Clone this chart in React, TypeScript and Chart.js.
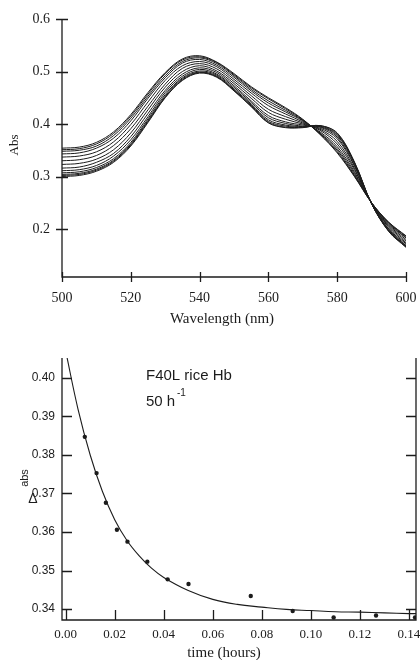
import React, { useEffect, useRef } from "react";
import { Chart, registerables } from "chart.js";

Chart.register(...registerables);

// ---------- Top chart data: absorbance spectra ----------
const wavelengths = [500, 505, 510, 515, 520, 525, 530, 535, 540, 545, 550, 555, 560, 565, 570, 575, 580, 585, 590, 595, 600];

const spectrum01 = [0.300, 0.302, 0.310, 0.327, 0.358, 0.403, 0.450, 0.483, 0.497, 0.489, 0.463, 0.433, 0.402, 0.393, 0.393, 0.397, 0.383, 0.328, 0.248, 0.195, 0.165];
const spectrum02 = [0.302, 0.304, 0.312, 0.329, 0.360, 0.405, 0.451, 0.484, 0.498, 0.490, 0.464, 0.434, 0.403, 0.394, 0.394, 0.397, 0.382, 0.327, 0.248, 0.196, 0.166];
const spectrum03 = [0.304, 0.306, 0.314, 0.331, 0.362, 0.407, 0.453, 0.486, 0.499, 0.491, 0.465, 0.436, 0.405, 0.396, 0.394, 0.396, 0.380, 0.326, 0.248, 0.196, 0.167];
const spectrum04 = [0.307, 0.309, 0.317, 0.334, 0.365, 0.410, 0.456, 0.488, 0.501, 0.493, 0.467, 0.438, 0.408, 0.398, 0.395, 0.395, 0.378, 0.325, 0.248, 0.197, 0.168];
const spectrum05 = [0.311, 0.313, 0.321, 0.339, 0.370, 0.414, 0.460, 0.491, 0.504, 0.495, 0.470, 0.441, 0.412, 0.401, 0.396, 0.394, 0.375, 0.322, 0.248, 0.199, 0.169];
const spectrum06 = [0.316, 0.318, 0.327, 0.344, 0.376, 0.420, 0.464, 0.495, 0.507, 0.498, 0.473, 0.444, 0.416, 0.404, 0.398, 0.392, 0.372, 0.320, 0.249, 0.200, 0.172];
const spectrum07 = [0.323, 0.325, 0.333, 0.351, 0.383, 0.427, 0.470, 0.500, 0.511, 0.501, 0.477, 0.449, 0.422, 0.409, 0.400, 0.390, 0.367, 0.316, 0.249, 0.203, 0.174];
const spectrum08 = [0.330, 0.332, 0.340, 0.359, 0.391, 0.434, 0.476, 0.506, 0.515, 0.505, 0.481, 0.454, 0.428, 0.414, 0.402, 0.388, 0.362, 0.313, 0.249, 0.205, 0.177];
const spectrum09 = [0.337, 0.339, 0.347, 0.366, 0.399, 0.442, 0.483, 0.511, 0.519, 0.509, 0.485, 0.459, 0.435, 0.419, 0.404, 0.385, 0.357, 0.309, 0.249, 0.207, 0.180];
const spectrum10 = [0.343, 0.345, 0.354, 0.373, 0.406, 0.449, 0.488, 0.516, 0.523, 0.512, 0.489, 0.463, 0.440, 0.423, 0.406, 0.383, 0.353, 0.306, 0.250, 0.209, 0.183];
const spectrum11 = [0.348, 0.350, 0.358, 0.378, 0.411, 0.453, 0.492, 0.519, 0.526, 0.515, 0.492, 0.466, 0.444, 0.426, 0.407, 0.382, 0.350, 0.303, 0.250, 0.211, 0.184];
const spectrum12 = [0.351, 0.353, 0.362, 0.382, 0.415, 0.457, 0.496, 0.522, 0.528, 0.517, 0.494, 0.469, 0.448, 0.429, 0.408, 0.381, 0.347, 0.301, 0.250, 0.212, 0.186];
const spectrum13 = [0.354, 0.356, 0.365, 0.385, 0.418, 0.460, 0.498, 0.524, 0.530, 0.518, 0.496, 0.471, 0.450, 0.431, 0.409, 0.380, 0.345, 0.300, 0.250, 0.213, 0.187];

const spectra = [spectrum01, spectrum02, spectrum03, spectrum04, spectrum05, spectrum06, spectrum07, spectrum08, spectrum09, spectrum10, spectrum11, spectrum12, spectrum13];

const absTicks = [0.2, 0.3, 0.4, 0.5, 0.6];
const absTickLabels = ["0.2", "0.3", "0.4", "0.5", "0.6"];
const wavelengthTicks = [500, 520, 540, 560, 580, 600];
const wavelengthTickLabels = ["500", "520", "540", "560", "580", "600"];

// ---------- Bottom chart data: kinetics ----------
const timePoints = [0.0078, 0.0126, 0.0164, 0.0209, 0.0252, 0.0333, 0.0416, 0.0501, 0.0755, 0.0926, 0.1093, 0.1266, 0.1425];
const deltaAbsPoints = [0.3847, 0.3753, 0.3676, 0.3606, 0.3575, 0.3523, 0.3477, 0.3465, 0.3434, 0.3395, 0.3378, 0.3383, 0.3378];

const fitTimes = [0.0, 0.005, 0.01, 0.015, 0.02, 0.025, 0.03, 0.035, 0.04, 0.05, 0.06, 0.07, 0.08, 0.09, 0.1, 0.11, 0.12, 0.13, 0.14, 0.143];
const fitValues = [0.407, 0.392, 0.380, 0.3705, 0.3632, 0.3578, 0.3538, 0.3506, 0.3482, 0.3448, 0.3425, 0.3412, 0.3405, 0.3399, 0.3396, 0.3393, 0.3392, 0.3390, 0.3388, 0.3388];

const timeTicks = [0.0, 0.02, 0.04, 0.06, 0.08, 0.1, 0.12, 0.14];
const timeTickLabels = ["0.00", "0.02", "0.04", "0.06", "0.08", "0.10", "0.12", "0.14"];
const deltaAbsTicks = [0.34, 0.35, 0.36, 0.37, 0.38, 0.39, 0.4];
const deltaAbsTickLabels = ["0.34", "0.35", "0.36", "0.37", "0.38", "0.39", "0.40"];

const INK = "#1c1c1c";
const SERIF = '"Liberation Serif", "DejaVu Serif", serif';
const SANS = '"Liberation Sans", Arial, sans-serif';

function fixTicks(values: number[]) {
  return (scale: any) => {
    scale.ticks = values.map((v) => ({ value: v }));
  };
}

function fixSize(dim: "width" | "height", size: number) {
  return (scale: any) => {
    scale[dim] = size;
    scale.paddingLeft = 0;
    scale.paddingRight = 0;
    scale.paddingTop = 0;
    scale.paddingBottom = 0;
  };
}

const topPlugin = {
  id: "topAxes",
  afterDraw(chart: any) {
    const ctx = chart.ctx;
    const { left, right, top, bottom } = chart.chartArea;
    const xs = chart.scales.x;
    const ys = chart.scales.y;
    ctx.save();
    ctx.strokeStyle = INK;
    ctx.lineWidth = 1.3;
    ctx.beginPath();
    ctx.moveTo(left, top);
    ctx.lineTo(left, bottom);
    ctx.lineTo(right, bottom);
    ctx.stroke();
    ctx.beginPath();
    absTicks.forEach((v) => {
      const y = Math.round(ys.getPixelForValue(v)) + 0.5;
      ctx.moveTo(left - 6, y);
      ctx.lineTo(left + 6, y);
    });
    wavelengthTicks.forEach((v) => {
      const x = Math.round(xs.getPixelForValue(v)) + 0.5;
      ctx.moveTo(x, bottom - 5);
      ctx.lineTo(x, bottom + 5);
    });
    ctx.stroke();

    ctx.fillStyle = INK;
    ctx.textAlign = "center";
    ctx.textBaseline = "middle";
    ctx.font = "15px " + SERIF;
    ctx.fillText("Wavelength (nm)", (left + right) / 2 - 12, bottom + 42);
    ctx.save();
    ctx.translate(15, 145);
    ctx.rotate(-Math.PI / 2);
    ctx.font = "13px " + SERIF;
    ctx.fillText("Abs", 0, 0);
    ctx.restore();
    ctx.restore();
  },
};

const bottomPlugin = {
  id: "bottomAxes",
  afterDraw(chart: any) {
    const ctx = chart.ctx;
    const { left, right, top, bottom } = chart.chartArea;
    const xs = chart.scales.x;
    const ys = chart.scales.y;
    ctx.save();
    ctx.strokeStyle = INK;
    ctx.lineWidth = 1.3;
    ctx.beginPath();
    ctx.moveTo(left, top);
    ctx.lineTo(left, bottom);
    ctx.lineTo(right, bottom);
    ctx.lineTo(right, top);
    ctx.stroke();
    ctx.beginPath();
    deltaAbsTicks.forEach((v) => {
      const y = Math.round(ys.getPixelForValue(v)) + 0.5;
      ctx.moveTo(left, y);
      ctx.lineTo(left + 10, y);
      ctx.moveTo(right, y);
      ctx.lineTo(right - 10, y);
    });
    timeTicks.forEach((v) => {
      const x = Math.round(xs.getPixelForValue(v)) + 0.5;
      ctx.moveTo(x, bottom);
      ctx.lineTo(x, bottom - 10);
    });
    ctx.stroke();

    ctx.fillStyle = INK;
    ctx.textBaseline = "middle";
    ctx.textAlign = "left";
    ctx.font = "15px " + SANS;
    ctx.fillText("F40L rice Hb", 146, 46);
    ctx.fillText("50 h", 146, 72);
    ctx.font = "10px " + SANS;
    ctx.fillText("-1", 177, 63);

    ctx.textAlign = "center";
    ctx.font = "15px " + SERIF;
    ctx.fillText("time (hours)", (left + right) / 2 - 15, bottom + 33);

    ctx.save();
    ctx.translate(25, 148);
    ctx.rotate(-Math.PI / 2);
    ctx.font = "11px " + SANS;
    ctx.fillText("abs", 0, 0);
    ctx.restore();
    ctx.font = "14px " + SANS;
    ctx.fillText("\u0394", 33, 169);
    ctx.restore();
  },
};

export default function App() {
  const topRef = useRef<HTMLCanvasElement | null>(null);
  const bottomRef = useRef<HTMLCanvasElement | null>(null);

  useEffect(() => {
    const topChart = new Chart(topRef.current as HTMLCanvasElement, {
      type: "scatter",
      data: {
        datasets: spectra.map((s, i) => ({
          label: "spectrum " + (i + 1),
          data: wavelengths.map((w, j) => ({ x: w, y: s[j] })),
          showLine: true,
          borderColor: INK,
          borderWidth: 1,
          pointRadius: 0,
          tension: 0.35,
          fill: false,
        })),
      },
      options: {
        animation: false,
        responsive: false,
        maintainAspectRatio: false,
        layout: { padding: { left: 0, top: 19, right: 14, bottom: 0 } },
        plugins: { legend: { display: false }, tooltip: { enabled: false } },
        scales: {
          x: {
            type: "linear",
            min: 500,
            max: 600,
            afterBuildTicks: fixTicks(wavelengthTicks),
            afterFit: fixSize("height", 53),
            grid: { display: false, drawTicks: false },
            border: { display: false },
            ticks: {
              padding: 13,
              color: INK,
              font: { family: SERIF, size: 14 },
              maxRotation: 0,
              autoSkip: false,
              callback: (_v: any, i: number) => wavelengthTickLabels[i],
            },
          },
          y: {
            type: "linear",
            min: 0.1086,
            max: 0.6,
            afterBuildTicks: fixTicks(absTicks),
            afterFit: fixSize("width", 62),
            grid: { display: false, drawTicks: false },
            border: { display: false },
            ticks: {
              padding: 12,
              color: INK,
              font: { family: SERIF, size: 14 },
              autoSkip: false,
              callback: (_v: any, i: number) => absTickLabels[i],
            },
          },
        },
      },
      plugins: [topPlugin],
    } as any);

    const bottomChart = new Chart(bottomRef.current as HTMLCanvasElement, {
      type: "scatter",
      data: {
        datasets: [
          {
            label: "fit",
            data: fitTimes.map((t, j) => ({ x: t, y: fitValues[j] })),
            showLine: true,
            borderColor: INK,
            borderWidth: 1.1,
            pointRadius: 0,
            tension: 0.4,
            fill: false,
          },
          {
            label: "data",
            data: timePoints.map((t, j) => ({ x: t, y: deltaAbsPoints[j] })),
            showLine: false,
            pointRadius: 2.2,
            pointStyle: "circle",
            backgroundColor: INK,
            borderColor: INK,
            borderWidth: 0,
          },
        ],
      },
      options: {
        animation: false,
        responsive: false,
        maintainAspectRatio: false,
        layout: { padding: { left: 0, top: 28, right: 2, bottom: 0 } },
        plugins: { legend: { display: false }, tooltip: { enabled: false } },
        scales: {
          x: {
            type: "linear",
            min: -0.0015,
            max: 0.1429,
            afterBuildTicks: fixTicks(timeTicks),
            afterFit: fixSize("height", 40),
            grid: { display: false, drawTicks: false },
            border: { display: false },
            ticks: {
              padding: 7,
              color: INK,
              font: { family: SERIF, size: 13 },
              maxRotation: 0,
              autoSkip: false,
              callback: (_v: any, i: number) => timeTickLabels[i],
            },
          },
          y: {
            type: "linear",
            min: 0.33715,
            max: 0.40518,
            afterBuildTicks: fixTicks(deltaAbsTicks),
            afterFit: fixSize("width", 62),
            grid: { display: false, drawTicks: false },
            border: { display: false },
            ticks: {
              padding: 7,
              color: INK,
              font: { family: SANS, size: 12 },
              autoSkip: false,
              callback: (_v: any, i: number) => deltaAbsTickLabels[i],
            },
          },
        },
      },
      plugins: [bottomPlugin],
    } as any);

    return () => {
      topChart.destroy();
      bottomChart.destroy();
    };
  }, []);

  return (
    <div style={{ position: "absolute", left: 0, top: 0, width: 420, height: 660, background: "#fff", overflow: "hidden" }}>
      <canvas ref={topRef} width={420} height={330} style={{ position: "absolute", left: 0, top: 0, width: 420, height: 330 }} />
      <canvas ref={bottomRef} width={420} height={330} style={{ position: "absolute", left: 0, top: 330, width: 420, height: 330 }} />
    </div>
  );
}
